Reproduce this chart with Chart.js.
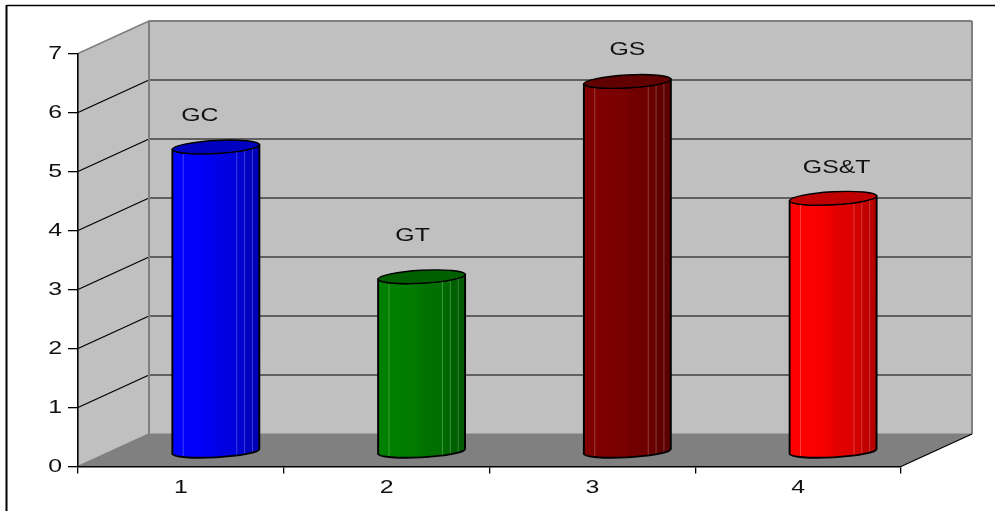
<!DOCTYPE html>
<html>
<head>
<meta charset="utf-8">
<style>
  html, body { margin: 0; padding: 0; background: #fff; }
  #wrap { width: 995px; height: 511px; }
</style>
<script src="https://cdn.jsdelivr.net/npm/chart.js@4"></script>
</head>
<body>
<div id="wrap"><canvas id="grafico" width="995" height="511"></canvas></div>
<script>
const categorias = ["1", "2", "3", "4"];
const valores = [5.17, 2.97, 6.28, 4.3];
const etiquetas = ["GC", "GT", "GS", "GS&T"];
const coloresBase = ["#0000ff", "#008000", "#800000", "#ff0000"];
const coloresTapa = ["#0000c0", "#006000", "#600000", "#c00000"];
const ticksY = [0, 1, 2, 3, 4, 5, 6, 7];

// profundidad del dibujo 3D (pared del fondo respecto al eje frontal)
const fondoX = 71;
const fondoY = -32.5;
// las barras van a media profundidad
const barraX = 35;
const barraY = -14.5;
const ajusteEtiquetas = [[-16, -31], [-9, -41], [0, -31], [3.5, -30]];
const fuente = "17.5px 'Liberation Sans', Arial, sans-serif";
const estirado = 1.42; // el texto del original esta ensanchado

function oscurecer(hex, f) {
    const n = parseInt(hex.slice(1), 16);
    const c = [(n >> 16) & 255, (n >> 8) & 255, n & 255].map(v => Math.round(v * f));
    return `rgb(${c[0]},${c[1]},${c[2]})`;
}

function poligono(ctx, puntos, relleno) {
    ctx.beginPath();
    puntos.forEach((p, i) => i ? ctx.lineTo(p[0], p[1]) : ctx.moveTo(p[0], p[1]));
    ctx.closePath();
    ctx.fillStyle = relleno;
    ctx.fill();
}

function linea(ctx, x1, y1, x2, y2, color, ancho) {
    ctx.beginPath();
    ctx.moveTo(x1, y1);
    ctx.lineTo(x2, y2);
    ctx.strokeStyle = color;
    ctx.lineWidth = ancho;
    ctx.stroke();
}

function textoAncho(ctx, texto, x, y, alineado) {
    ctx.save();
    ctx.translate(x, y);
    ctx.scale(estirado, 1);
    ctx.fillStyle = "#111";
    ctx.font = fuente;
    ctx.textAlign = alineado;
    ctx.textBaseline = "middle";
    ctx.fillText(texto, 0, 0);
    ctx.restore();
}

const paredes = {
    id: "paredes",
    beforeDraw(chart) {
        const {ctx, chartArea: a, scales: {y}} = chart;
        const l = a.left, r = a.right, t = y.getPixelForValue(7), b = y.getPixelForValue(0);
        ctx.save();
        // marco exterior, solo arriba e izquierda
        linea(ctx, 7, 5.5, 995, 5.5, "#000", 1.5);
        linea(ctx, 6.5, 5, 6.5, 511, "#000", 2);

        poligono(ctx, [[l + fondoX, t + fondoY], [r + fondoX, t + fondoY], [r + fondoX, b + fondoY], [l + fondoX, b + fondoY]], "#c0c0c0");
        poligono(ctx, [[l, t], [l + fondoX, t + fondoY], [l + fondoX, b + fondoY], [l, b]], "#c0c0c0");
        poligono(ctx, [[l, b], [l + fondoX, b + fondoY], [r + fondoX, b + fondoY], [r, b]], "#808080");

        ticksY.slice(1, -1).forEach(v => {
            const py = y.getPixelForValue(v);
            linea(ctx, l, py, l + fondoX, py + fondoY, "#000", 1.3);
            linea(ctx, l + fondoX, py + fondoY, r + fondoX, py + fondoY, "#404040", 1.5);
        });

        linea(ctx, l, t, l + fondoX, t + fondoY, "#808080", 1.5);
        linea(ctx, l + fondoX, t + fondoY, r + fondoX, t + fondoY, "#808080", 2);
        linea(ctx, l + fondoX, t + fondoY, l + fondoX, b + fondoY, "#808080", 2);
        linea(ctx, r + fondoX, t + fondoY, r + fondoX, b + fondoY, "#808080", 2);
        linea(ctx, l + fondoX, b + fondoY, r + fondoX, b + fondoY, "#808080", 1);
        linea(ctx, l, b, l + fondoX, b + fondoY, "#808080", 1.5);
        linea(ctx, r, b, r + fondoX, b + fondoY, "#000", 1.3);
        ctx.restore();
    },
    afterDraw(chart) {
        const {ctx, scales: {x, y}} = chart;
        ticksY.forEach(v => textoAncho(ctx, String(v), 62, y.getPixelForValue(v) + 1, "right"));
        categorias.forEach((c, i) => textoAncho(ctx, c, x.getPixelForValue(i), 488, "center"));
    }
};

function gradienteCilindro(ctx, x0, ancho, color) {
    const g = ctx.createLinearGradient(x0, 0, x0 + ancho, 0);
    const paradas = [
        [0, 1], [0.3, 0.98], [0.49, 0.93], [0.5, 0.9], [0.74, 0.86],
        [0.75, 0.82], [0.83, 0.8], [0.84, 0.76], [0.92, 0.74], [1, 0.7]
    ];
    paradas.forEach(p => g.addColorStop(p[0], oscurecer(color, p[1])));
    return g;
}

const cilindros = {
    id: "cilindros",
    // se reemplaza el rectangulo de la barra, leyendo su posicion del elemento
    beforeDatasetDraw(chart, args) {
        const {ctx} = chart;
        const giro = -0.055;
        const ry = 6;
        args.meta.data.forEach((barra, i) => {
            const cx = barra.x + barraX;
            const rx = barra.width / 2;
            const yTop = barra.y + barraY;
            const yBase = barra.base + barraY;
            const dy = Math.sin(giro) * rx;
            const izq = cx - rx, der = cx + rx;

            ctx.save();
            // cuerpo
            const cuerpo = new Path2D();
            cuerpo.moveTo(izq, yTop - dy);
            cuerpo.lineTo(izq, yBase - dy);
            cuerpo.ellipse(cx, yBase, rx, ry, giro, Math.PI, 0, true);
            cuerpo.lineTo(der, yTop + dy);
            cuerpo.ellipse(cx, yTop, rx, ry, giro, 0, Math.PI, false);
            cuerpo.closePath();
            ctx.fillStyle = gradienteCilindro(ctx, izq, barra.width, coloresBase[i]);
            ctx.fill(cuerpo);

            // lineas claras de las facetas
            ctx.save();
            ctx.clip(cuerpo);
            ctx.globalAlpha = 0.3;
            [0.125, 0.74, 0.83, 0.92].forEach(f => {
                const px = izq + barra.width * f;
                linea(ctx, px, yTop - 10, px, yBase + 10, "#fff", 0.8);
            });
            ctx.restore();

            ctx.strokeStyle = "#000";
            ctx.lineWidth = 1.9;
            ctx.stroke(cuerpo);

            // tapa
            ctx.beginPath();
            ctx.ellipse(cx, yTop, rx, ry + 0.5, giro, 0, Math.PI * 2);
            ctx.fillStyle = coloresTapa[i];
            ctx.fill();
            ctx.lineWidth = 1.4;
            ctx.stroke();
            ctx.restore();

            // etiqueta
            textoAncho(ctx, etiquetas[i], cx + ajusteEtiquetas[i][0], yTop + ajusteEtiquetas[i][1], "center");
        });
        return false;
    }
};

new Chart(document.getElementById("grafico").getContext("2d"), {
    type: "bar",
    data: {
        labels: categorias,
        datasets: [{
            data: valores,
            backgroundColor: coloresBase,
            barThickness: 87
        }]
    },
    plugins: [paredes, cilindros],
    options: {
        responsive: false,
        animation: false,
        layout: {padding: {top: 53.5, right: 94, left: 0, bottom: 0}},
        plugins: {legend: {display: false}, tooltip: {enabled: false}},
        scales: {
            x: {
                afterFit(scale) { scale.height = 44.5; },
                grid: {drawOnChartArea: false, tickLength: 7, color: "#000", lineWidth: 1.3},
                border: {color: "#000", width: 1.6},
                ticks: {display: false}
            },
            y: {
                min: 0,
                max: 7,
                afterFit(scale) { scale.width = 78; },
                afterBuildTicks(scale) { scale.ticks = ticksY.map(v => ({value: v})); },
                grid: {drawOnChartArea: false, tickLength: 10, color: "#000", lineWidth: 1.3},
                border: {color: "#000", width: 1.6},
                ticks: {display: false}
            }
        }
    }
});
</script>
</body>
</html>
